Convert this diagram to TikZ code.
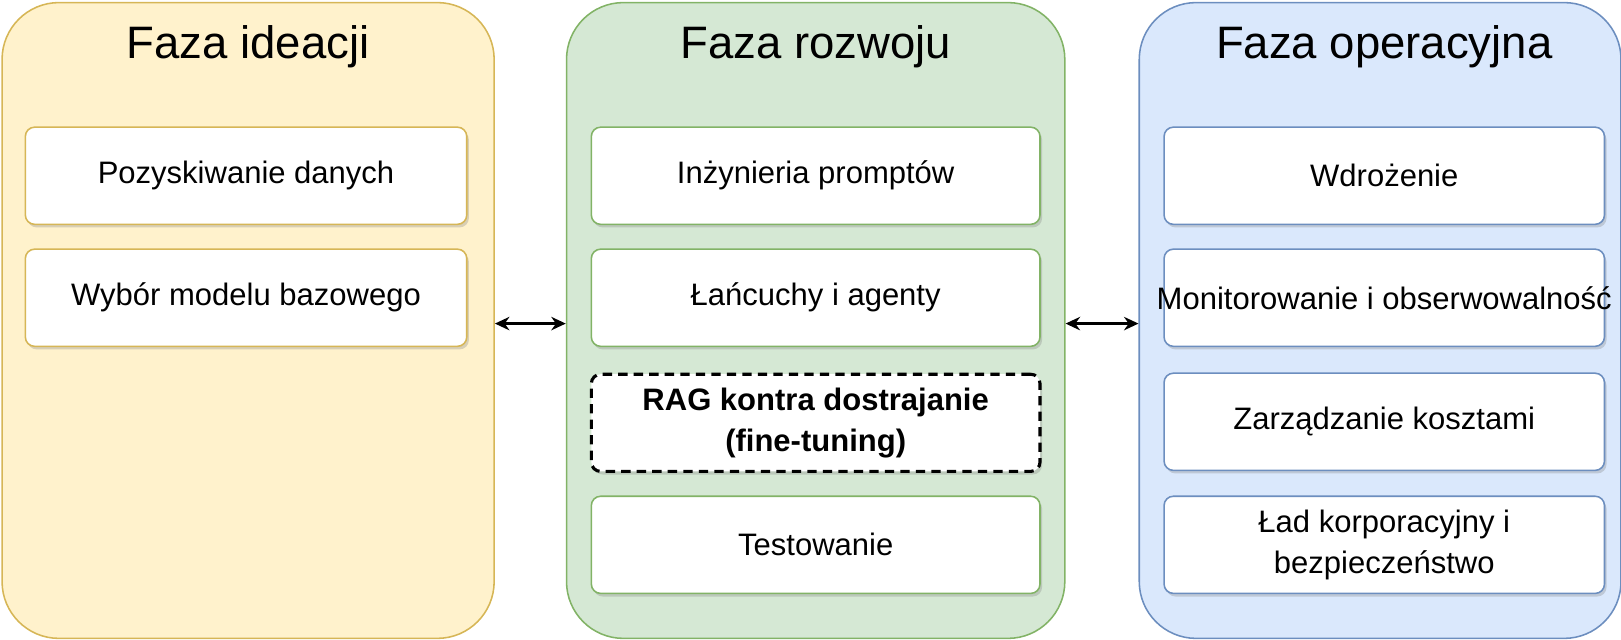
\documentclass[tikz,border=0pt]{standalone}
\usepackage{fontspec}
\setmainfont{Liberation Sans}
\usetikzlibrary{shadows,arrows.meta}
\begin{document}
\begin{tikzpicture}[x=1pt,y=-1pt,
panel/.style={rounded corners=55pt,line width=1.5pt},
box/.style={draw,rounded corners=9pt,fill=white,line width=1.5pt,minimum width=427pt,minimum height=94pt,align=center,font=\fontsize{30}{36}\selectfont,drop shadow={shadow xshift=2pt,shadow yshift=-3pt,opacity=0.3}},
title/.style={font=\fontsize{44}{48}\selectfont},
arr/.style={{Stealth[length=14pt,width=13pt]}-{Stealth[length=14pt,width=13pt]},line width=2.2pt}]
\useasboundingbox (0,0) rectangle (1568,619);
\definecolor{yf}{HTML}{FFF2CC}\definecolor{yd}{HTML}{D6B656}
\definecolor{gf}{HTML}{D5E8D4}\definecolor{gd}{HTML}{82B366}
\definecolor{bf}{HTML}{DAE8FC}\definecolor{bd}{HTML}{6C8EBF}
\node[panel,draw=yd,fill=yf,minimum width=476pt,minimum height=615pt,rectangle,rounded corners=55pt] (p1) at (240,310) {};
\node[panel,draw=gd,fill=gf,minimum width=482pt,minimum height=615pt,rectangle,rounded corners=55pt] (p2) at (789,310) {};
\node[panel,draw=bd,fill=bf,minimum width=466pt,minimum height=615pt,rectangle,rounded corners=55pt] (p3) at (1335,310) {};
\node[title] (t1) at (240,45) {Faza ideacji};
\node[title] (t2) at (789,45) {Faza rozwoju};
\node[title] (t3) at (1339,45) {Faza operacyjna};
\node[box,draw=yd] (a1) at (238,170) {Pozyskiwanie danych};
\node[box,draw=yd] (a2) at (238,288) {Wybór modelu bazowego};
\node[box,draw=gd,minimum width=434pt] (b1) at (789,170) {Inżynieria promptów};
\node[box,draw=gd,minimum width=434pt] (b2) at (789,288) {Łańcuchy i agenty};
\node[box,draw=black,dashed,line width=3pt,dash pattern=on 9pt off 6pt,minimum width=434pt,font=\fontsize{30}{40}\selectfont\bfseries] (b3) at (789,409) {RAG kontra dostrajanie\\(fine-tuning)};
\node[box,draw=gd,minimum width=434pt] (b4) at (789,527) {Testowanie};
\node[box,draw=bd,minimum width=426pt] (c1) at (1339,170) {Wdrożenie};
\node[box,draw=bd,minimum width=426pt,inner xsep=0pt] (c2) at (1339,288) {\makebox[420pt]{Monitorowanie i obserwowalność}};
\node[box,draw=bd,minimum width=426pt] (c3) at (1339,408) {Zarządzanie kosztami};
\node[box,draw=bd,minimum width=426pt,font=\fontsize{30}{40}\selectfont] (c4) at (1339,527) {Ład korporacyjny i\\bezpieczeństwo};
\draw[arr] (p1.east|-0,313) -- (p2.west|-0,313);
\draw[arr] (p2.east|-0,313) -- (p3.west|-0,313);
\end{tikzpicture}
\end{document}
